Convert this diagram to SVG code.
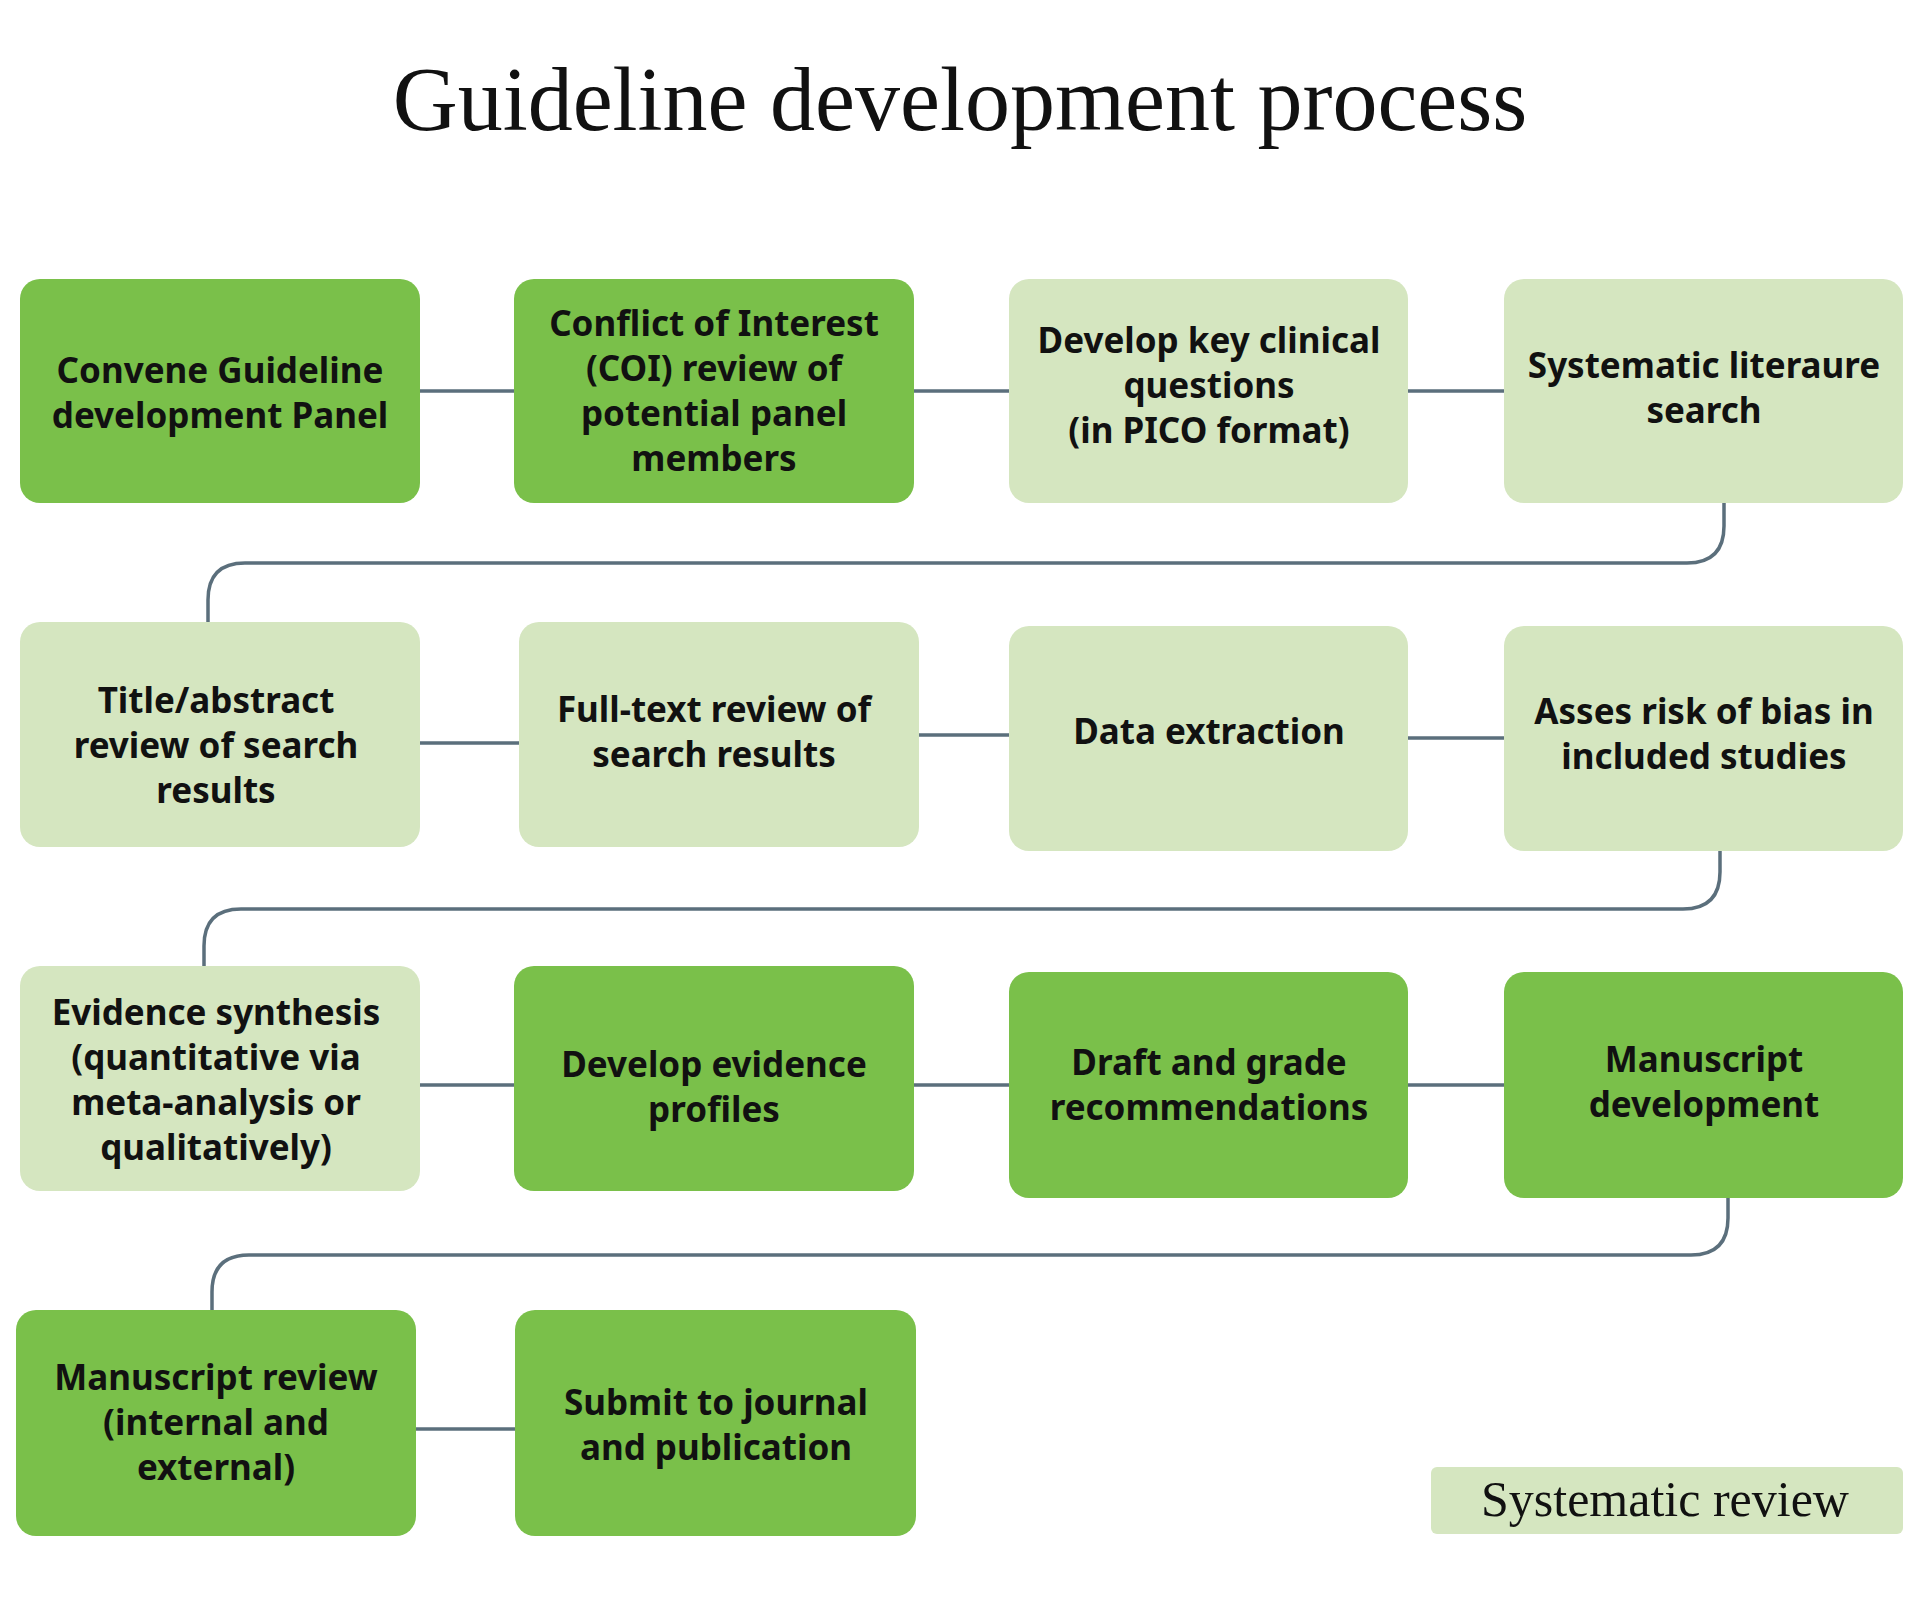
<svg xmlns="http://www.w3.org/2000/svg" width="1920" height="1616" viewBox="0 0 1920 1616">
<style>
.d{fill:#7ac04a}.l{fill:#d5e6c0}
.t{font-family:"Noto Sans","Liberation Sans",sans-serif;font-weight:700;font-size:35px;fill:#111;text-anchor:middle;dominant-baseline:central}
.c{fill:none;stroke:#5b6f7c;stroke-width:3.5}
</style>
<rect width="1920" height="1616" fill="#fff"/>
<text x="960" y="130" font-family="Liberation Serif,serif" font-size="90" text-anchor="middle" fill="#111">Guideline development process</text>
<g id="connectors" class="c">
<path d="M420 391H514M913 391H1009M1408 391H1504"/>
<path d="M1724 503V526Q1724 563 1687 563H245Q208 563 208 600V622"/>
<path d="M420 743H519M919 735H1009M1408 738H1504"/>
<path d="M1720 851V872Q1720 909 1683 909H241Q204 909 204 946V966"/>
<path d="M420 1085H514M913 1085H1009M1408 1085H1504"/>
<path d="M1728 1198V1218Q1728 1255 1691 1255H249Q212 1255 212 1292V1310"/>
<path d="M416 1429H515"/>
</g>
<g id="n1"><rect class="d" x="20" y="279" width="400" height="224" rx="20"/><text class="t" x="220"><tspan x="220" y="369">Convene Guideline</tspan><tspan x="220" y="414">development Panel</tspan></text></g>
<g id="n2"><rect class="d" x="514" y="279" width="400" height="224" rx="20"/><text class="t"><tspan x="714" y="322">Conflict of Interest</tspan><tspan x="714" y="367">(COI) review of</tspan><tspan x="714" y="412">potential panel</tspan><tspan x="714" y="457">members</tspan></text></g>
<g id="n3"><rect class="l" x="1009" y="279" width="399" height="224" rx="20"/><text class="t"><tspan x="1209" y="339">Develop key clinical</tspan><tspan x="1209" y="384">questions</tspan><tspan x="1209" y="429">(in PICO format)</tspan></text></g>
<g id="n4"><rect class="l" x="1504" y="279" width="399" height="224" rx="20"/><text class="t"><tspan x="1704" y="364">Systematic literaure</tspan><tspan x="1704" y="409">search</tspan></text></g>
<g id="n5"><rect class="l" x="20" y="622" width="400" height="225" rx="20"/><text class="t"><tspan x="216" y="699">Title/abstract</tspan><tspan x="216" y="744">review of search</tspan><tspan x="216" y="789">results</tspan></text></g>
<g id="n6"><rect class="l" x="519" y="622" width="400" height="225" rx="20"/><text class="t"><tspan x="714" y="708">Full-text review of</tspan><tspan x="714" y="753">search results</tspan></text></g>
<g id="n7"><rect class="l" x="1009" y="626" width="399" height="225" rx="20"/><text class="t" x="1209" y="730">Data extraction</text></g>
<g id="n8"><rect class="l" x="1504" y="626" width="399" height="225" rx="20"/><text class="t"><tspan x="1704" y="710">Asses risk of bias in</tspan><tspan x="1704" y="755">included studies</tspan></text></g>
<g id="n9"><rect class="l" x="20" y="966" width="400" height="225" rx="20"/><text class="t"><tspan x="216" y="1011">Evidence synthesis</tspan><tspan x="216" y="1056">(quantitative via</tspan><tspan x="216" y="1101">meta-analysis or</tspan><tspan x="216" y="1146">qualitatively)</tspan></text></g>
<g id="n10"><rect class="d" x="514" y="966" width="400" height="225" rx="20"/><text class="t"><tspan x="714" y="1063">Develop evidence</tspan><tspan x="714" y="1108">profiles</tspan></text></g>
<g id="n11"><rect class="d" x="1009" y="972" width="399" height="226" rx="20"/><text class="t"><tspan x="1209" y="1061">Draft and grade</tspan><tspan x="1209" y="1106">recommendations</tspan></text></g>
<g id="n12"><rect class="d" x="1504" y="972" width="399" height="226" rx="20"/><text class="t"><tspan x="1704" y="1058">Manuscript</tspan><tspan x="1704" y="1103">development</tspan></text></g>
<g id="n13"><rect class="d" x="16" y="1310" width="400" height="226" rx="20"/><text class="t"><tspan x="216" y="1376">Manuscript review</tspan><tspan x="216" y="1421">(internal and</tspan><tspan x="216" y="1466">external)</tspan></text></g>
<g id="n14"><rect class="d" x="515" y="1310" width="401" height="226" rx="20"/><text class="t"><tspan x="716" y="1401">Submit to journal</tspan><tspan x="716" y="1446">and publication</tspan></text></g>
<g id="legend"><rect class="l" x="1431" y="1467" width="472" height="67" rx="6"/><text x="1665" y="1516" font-family="Liberation Serif,serif" font-size="50" text-anchor="middle" fill="#111">Systematic review</text></g>
</svg>
